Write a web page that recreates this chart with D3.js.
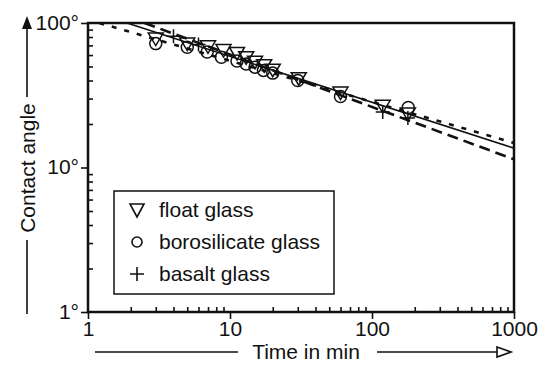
<!DOCTYPE html>
<html>
<head>
<meta charset="utf-8">
<script src="https://cdn.jsdelivr.net/npm/d3@7"></script>
<style>
  body { margin: 0; background: #fff; }
  svg text { font-family: "Liberation Sans", Arial, Helvetica, sans-serif; fill: #111; }
</style>
</head>
<body>
<svg id="chart" width="543" height="365"></svg>
<script>
// data: [time in min, contact angle in deg]
var floatGlass = [
    [3, 78], [5, 72], [7, 69], [9, 65], [11.2, 62], [13, 58], [15, 54],
    [17.4, 51], [20, 47.5], [30.5, 41.5], [60, 33], [119, 26.7], [179, 23.6]
];
var borosilicateGlass = [
    [3, 72], [5, 68], [6.9, 63], [8.7, 58], [11.2, 54.5], [13, 52], [15, 49.5],
    [17.2, 47], [20, 45], [30, 40], [60, 31], [180, 26]
];
var basaltGlass = [
    [4, 81], [6, 71], [119, 24.2], [179, 22]
];
// fitted lines (two points each, log-log straight lines)
var solidFit = [[1.88, 100], [1000, 13.6]];
var dottedFit = [[1.2, 100], [1000, 14.8]];
var dashedFit = [[2.5, 100], [1000, 11.4]];

var xMajor = [1, 10, 100, 1000];
var yMajor = [1, 10, 100];
var yLabels = ['1°', '10°', '100°'];
var legendNames = ['float glass', 'borosilicate glass', 'basalt glass'];

!(function(d3) {
    var svg = d3.select('#chart');
    var plot = { left: 88, right: 514, top: 23, bottom: 312 };
    var ink = '#111';
    var fontSize = '21px';

    var x = d3.scaleLog().domain([1, 1000]).range([plot.left, plot.right]);
    var y = d3.scaleLog().domain([1, 100]).range([plot.bottom, plot.top]);

    var minorX = [];
    var minorY = [];
    [1, 10, 100].forEach(function(dec) {
        d3.range(2, 10).forEach(function(k) {
            minorX.push(k * dec);
            if (dec < 100) { minorY.push(k * dec); }
        });
    });

    svg.append('clipPath').attr('id', 'plotClip')
        .append('rect')
        .attr('x', plot.left).attr('y', plot.top)
        .attr('width', plot.right - plot.left)
        .attr('height', plot.bottom - plot.top);

    // frame
    svg.append('rect')
        .attr('x', plot.left).attr('y', plot.top)
        .attr('width', plot.right - plot.left)
        .attr('height', plot.bottom - plot.top)
        .style('fill', 'none').style('stroke', ink).style('stroke-width', 2.5);

    // axes
    var styleAxis = function(g) {
        g.select('path.domain').remove();
        g.selectAll('line').style('stroke', ink).style('stroke-width', 1.6);
        g.selectAll('text').style('font-size', fontSize).style('fill', ink)
            .style('font-family', '"Liberation Sans", Arial, sans-serif');
    };
    svg.append('g')
        .attr('transform', 'translate(0,' + plot.bottom + ')')
        .call(d3.axisBottom(x).tickValues(minorX).tickSize(-5).tickFormat(''))
        .call(styleAxis);
    svg.append('g')
        .attr('transform', 'translate(0,' + plot.bottom + ')')
        .call(d3.axisBottom(x).tickValues(xMajor).tickSize(7).tickPadding(2).tickFormat(d3.format('d')))
        .call(styleAxis);
    svg.append('g')
        .attr('transform', 'translate(' + plot.left + ',0)')
        .call(d3.axisLeft(y).tickValues(minorY).tickSize(-5).tickFormat(''))
        .call(styleAxis);
    var yAx = svg.append('g')
        .attr('transform', 'translate(' + plot.left + ',0)')
        .call(d3.axisLeft(y).tickValues(yMajor).tickSize(7).tickPadding(2)
            .tickFormat(function(d, i) { return yLabels[i]; }))
        .call(styleAxis);
    yAx.selectAll('text').attr('dy', '0.3em');

    // fit lines
    var line = d3.line()
        .x(function(d) { return x(d[0]); })
        .y(function(d) { return y(d[1]); });
    var lines = svg.append('g').attr('clip-path', 'url(#plotClip)');
    lines.append('path').datum(solidFit).attr('d', line)
        .style('fill', 'none').style('stroke', ink).style('stroke-width', 1.6);
    lines.append('path').datum(dottedFit).attr('d', line)
        .style('fill', 'none').style('stroke', ink).style('stroke-width', 2.6)
        .style('stroke-dasharray', '5,8');
    lines.append('path').datum(dashedFit).attr('d', line)
        .style('fill', 'none').style('stroke', ink).style('stroke-width', 2.6)
        .style('stroke-dasharray', '11,6');

    // markers
    var triangle = 'M-7.5,-5.5L7.5,-5.5L0,7Z';
    var plus = 'M-7,0L7,0M0,-7L0,7';
    var pts = svg.append('g');
    pts.selectAll('circle.boro').data(borosilicateGlass).enter().append('circle')
        .attr('class', 'boro')
        .attr('cx', function(d) { return x(d[0]); })
        .attr('cy', function(d) { return y(d[1]); })
        .attr('r', 6)
        .style('fill', 'none').style('stroke', ink).style('stroke-width', 1.5);
    pts.selectAll('path.float').data(floatGlass).enter().append('path')
        .attr('class', 'float')
        .attr('d', triangle)
        .attr('transform', function(d) { return 'translate(' + x(d[0]) + ',' + y(d[1]) + ')'; })
        .style('fill', 'none').style('stroke', ink).style('stroke-width', 1.5);
    pts.selectAll('path.basalt').data(basaltGlass).enter().append('path')
        .attr('class', 'basalt')
        .attr('d', plus)
        .attr('transform', function(d) { return 'translate(' + x(d[0]) + ',' + y(d[1]) + ')'; })
        .style('fill', 'none').style('stroke', ink).style('stroke-width', 1.5);

    // legend
    var legend = svg.append('g').attr('transform', 'translate(114,191)');
    legend.append('rect')
        .attr('width', 220).attr('height', 103)
        .style('fill', '#fff').style('stroke', ink).style('stroke-width', 1.5);
    var rows = legend.selectAll('g.row').data(legendNames).enter().append('g')
        .attr('class', 'row')
        .attr('transform', function(d, i) { return 'translate(23,' + (19 + i * 32) + ')'; });
    rows.each(function(d, i) {
        var g = d3.select(this);
        if (i === 0) {
            g.append('path').attr('d', 'M-7,-6L7,-6L0,7Z');
        } else if (i === 1) {
            g.append('circle').attr('r', 5);
        } else {
            g.append('path').attr('d', plus);
        }
        g.selectAll('path, circle')
            .style('fill', 'none').style('stroke', ink).style('stroke-width', 1.6);
    });
    rows.append('text')
        .attr('x', 22).attr('y', 7)
        .style('font-size', fontSize)
        .text(function(d) { return d; });

    // axis titles with arrows
    var yTitleX = 27, yMid = 168;
    svg.append('text')
        .attr('transform', 'translate(' + (yTitleX + 8) + ',' + yMid + ') rotate(-90)')
        .attr('text-anchor', 'middle')
        .style('font-size', fontSize)
        .text('Contact angle');
    svg.append('line')
        .attr('x1', yTitleX).attr('x2', yTitleX).attr('y1', 97).attr('y2', 26)
        .style('stroke', ink).style('stroke-width', 1.6);
    svg.append('line')
        .attr('x1', yTitleX).attr('x2', yTitleX).attr('y1', 240).attr('y2', 314)
        .style('stroke', ink).style('stroke-width', 1.6);
    svg.append('path')
        .attr('d', 'M' + yTitleX + ',16L' + (yTitleX + 5) + ',29L' + (yTitleX - 5) + ',29Z')
        .style('fill', ink);

    var xTitleY = 352;
    svg.append('text')
        .attr('x', 306).attr('y', xTitleY + 7)
        .attr('text-anchor', 'middle')
        .style('font-size', fontSize)
        .text('Time in min');
    svg.append('line')
        .attr('x1', 95).attr('x2', 238).attr('y1', xTitleY).attr('y2', xTitleY)
        .style('stroke', ink).style('stroke-width', 1.6);
    svg.append('line')
        .attr('x1', 377).attr('x2', 497).attr('y1', xTitleY).attr('y2', xTitleY)
        .style('stroke', ink).style('stroke-width', 1.6);
    svg.append('path')
        .attr('d', 'M497,' + (xTitleY - 5) + 'L511,' + xTitleY + 'L497,' + (xTitleY + 5) + 'Z')
        .style('fill', '#fff').style('stroke', ink).style('stroke-width', 1.6);
}(d3));
</script>
</body>
</html>
